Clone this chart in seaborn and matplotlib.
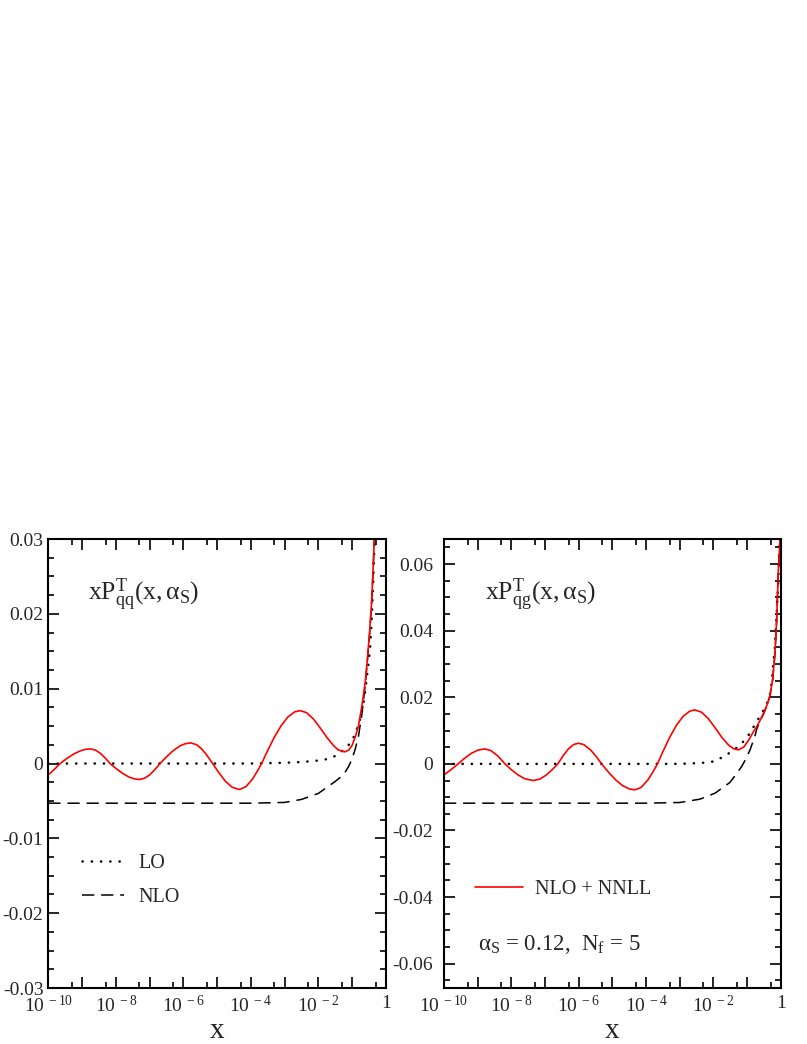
import numpy as np
import matplotlib
matplotlib.use("Agg")
import matplotlib.pyplot as plt
from matplotlib.ticker import LogLocator, FuncFormatter, MultipleLocator, NullFormatter
import seaborn as sns

# values, x given as log10(x)
# left panel: x P_qq^T
lo_qq_logx = [-10, -4, -3, -2.5, -2.0, -1.72, -1.45, -1.23, -1.03, -0.91, -0.74, -0.64,
              -0.545, -0.465, -0.42, -0.37, -0.33, -0.30]
lo_qq = [0, 0, 0.0001, 0.0002, 0.0004, 0.0006, 0.0011, 0.0019, 0.0028, 0.0039, 0.0062, 0.0086,
         0.0121, 0.0152, 0.019, 0.0245, 0.030, 0.035]

nlo_qq_logx = [-10, -4, -3.0, -2.5, -2.0, -1.5, -1.25, -1.1, -1.0, -0.9, -0.81, -0.71, -0.61,
               -0.545, -0.48, -0.42, -0.37, -0.33, -0.30]
nlo_qq = [-0.0053, -0.0053, -0.0052, -0.0048, -0.0040, -0.0024, -0.0015, -0.0004, 0.0006, 0.0020,
          0.0036, 0.0065, 0.0104, 0.0137, 0.0172, 0.0213, 0.0263, 0.031, 0.035]

nnll_qq_logx = [-10, -9.85, -9.65, -9.45, -9.25, -9.05, -8.9, -8.76, -8.6, -8.45, -8.3, -8.17,
                -8.0, -7.8, -7.6, -7.45, -7.3, -7.15, -7.0, -6.85, -6.69, -6.5, -6.3, -6.1,
                -5.95, -5.78, -5.6, -5.45, -5.3, -5.13, -4.95, -4.75, -4.55, -4.34, -4.15,
                -3.95, -3.8, -3.68, -3.5, -3.3, -3.1, -2.9, -2.7, -2.54, -2.35, -2.15, -1.95,
                -1.75, -1.55, -1.4, -1.21, -1.1, -1.0, -0.9, -0.81, -0.71, -0.61, -0.545,
                -0.48, -0.42, -0.37, -0.33, -0.30]
nnll_qq = [-0.0015, -0.0009, 0, 0.00068, 0.00127, 0.0017, 0.0019, 0.00196, 0.00179, 0.00133,
           0.00067, 0, -0.00064, -0.00132, -0.00183, -0.00205, -0.00213, -0.00197, -0.00153,
           -0.00085, 0, 0.00089, 0.00172, 0.00235, 0.00264, 0.00276, 0.0025, 0.00193, 0.0011,
           0, -0.0012, -0.00238, -0.00317, -0.00347, -0.00312, -0.00208, -0.00098, 0,
           0.00173, 0.00354, 0.00506, 0.00622, 0.0069, 0.00707, 0.0068, 0.00598, 0.0048,
           0.00352, 0.0024, 0.0018, 0.00156, 0.0018, 0.0024, 0.0036, 0.0050, 0.0076, 0.0108,
           0.0139, 0.0175, 0.0215, 0.0265, 0.031, 0.035]

# right panel: x P_qg^T
lo_qg_logx = [-10, -3.0, -2.5, -2.2, -1.95, -1.70, -1.45, -1.26, -1.01, -0.86, -0.71, -0.56,
              -0.42, -0.32, -0.27, -0.22, -0.17, -0.12, -0.07, -0.04, -0.01]
lo_qg = [0, 0, 0.0002, 0.0004, 0.0008, 0.0022, 0.0037, 0.0052, 0.0077, 0.0102, 0.0127, 0.0152,
         0.0177, 0.0207, 0.0242, 0.030, 0.0352, 0.045, 0.055, 0.065, 0.075]

nlo_qg_logx = [-10, -4, -3.0, -2.4, -1.95, -1.51, -1.36, -1.16, -1.05, -0.91, -0.76, -0.71,
               -0.6, -0.51, -0.4, -0.32, -0.24, -0.17, -0.12, -0.07, -0.02, 0.0]
nlo_qg = [-0.0118, -0.0118, -0.0116, -0.0106, -0.0088, -0.0056, -0.0036, -0.0008, 0.0012,
          0.0042, 0.0085, 0.0105, 0.0131, 0.0150, 0.0177, 0.0204, 0.0252, 0.0332, 0.0432,
          0.058, 0.067, 0.072]

nnll_qg_logx = [-10, -9.8, -9.58, -9.4, -9.2, -9.0, -8.79, -8.6, -8.4, -8.19, -8.0, -7.8, -7.6,
                -7.35, -7.15, -6.95, -6.78, -6.62, -6.45, -6.3, -6.15, -6.01, -5.85, -5.65,
                -5.48, -5.32, -5.1, -4.9, -4.7, -4.5, -4.33, -4.15, -3.95, -3.8, -3.66, -3.5,
                -3.3, -3.1, -2.9, -2.7, -2.55, -2.35, -2.15, -1.95, -1.75, -1.55, -1.4, -1.26,
                -1.1, -0.96, -0.8, -0.71, -0.6, -0.51, -0.4, -0.32, -0.24, -0.17, -0.12,
                -0.07, -0.02, 0.0]
nnll_qg = [-0.0033, -0.0018, 0, 0.00158, 0.00309, 0.00411, 0.0045, 0.00396, 0.00235, 0,
           -0.00174, -0.00333, -0.00447, -0.0050, -0.00455, -0.00326, -0.00169, 0, 0.00263,
           0.00455, 0.0058, 0.0062, 0.00579, 0.00423, 0.00221, 0, -0.00267, -0.00482, -0.0065,
           -0.00752, -0.0078, -0.00711, -0.0049, -0.00251, 0, 0.00365, 0.0079, 0.01153,
           0.01425, 0.01584, 0.0162, 0.0155, 0.01357, 0.01086, 0.00799, 0.00564, 0.00456,
           0.0042, 0.0050, 0.0070, 0.0098, 0.0112, 0.0133, 0.0152, 0.0178, 0.0205, 0.0252,
           0.0332, 0.0432, 0.058, 0.067, 0.072]

sns.set_style("ticks")
plt.rcParams['font.family'] = ['Liberation Serif', 'DejaVu Serif']
plt.rcParams['mathtext.fontset'] = 'custom'
plt.rcParams['mathtext.rm'] = 'Liberation Serif'
plt.rcParams['mathtext.it'] = 'Liberation Serif:italic'
plt.rcParams['axes.unicode_minus'] = False

fig = plt.figure(figsize=(8.07, 10.44), dpi=100)
ax1 = fig.add_axes([0.0599, 0.0536, 0.4181, 0.4301])
ax2 = fig.add_axes([0.5502, 0.0536, 0.4172, 0.4301])


def xfmt(v, pos):
    e = int(round(np.log10(v)))
    if e == 0:
        return '1'
    if e % 2:
        return ''
    return r'10$^{\;%d}$' % e


def yfmt(v, pos):
    if abs(v) < 1e-9:
        return '0'
    return '%.2f' % v


def draw(ax, lo_lx, lo, nlo_lx, nlo, nn_lx, nn, ylim, major, minor, ypad):
    sns.lineplot(x=10.0 ** np.array(lo_lx), y=lo, ax=ax, color='black', lw=1.8,
                 linestyle=(0, (0.1, 3.6)), dash_capstyle='round', estimator=None)
    sns.lineplot(x=10.0 ** np.array(nlo_lx), y=nlo, ax=ax, color='black', lw=1.1,
                 linestyle=(0, (8, 4.5)), estimator=None)
    sns.lineplot(x=10.0 ** np.array(nn_lx), y=nn, ax=ax, color='#ff0000', lw=1.2,
                 estimator=None)
    ax.set_xscale('log')
    ax.set_xlim(1e-10, 1)
    ax.set_ylim(*ylim)
    ax.xaxis.set_major_locator(LogLocator(base=10, numticks=20))
    ax.xaxis.set_minor_locator(LogLocator(base=10, subs=[5], numticks=20))
    ax.xaxis.set_major_formatter(FuncFormatter(xfmt))
    ax.xaxis.set_minor_formatter(NullFormatter())
    ax.yaxis.set_major_locator(MultipleLocator(major))
    ax.yaxis.set_minor_locator(MultipleLocator(minor))
    ax.yaxis.set_major_formatter(FuncFormatter(yfmt))
    ax.tick_params(which='major', direction='in', length=8, width=1.2, top=True, right=True,
                   labelsize=14, color='black')
    ax.tick_params(which='minor', direction='in', length=4.5, width=1.2, top=True, right=True,
                   color='black')
    ax.tick_params(axis='y', which='major', pad=ypad)
    ax.tick_params(axis='x', which='major', pad=5)
    for s in ax.spines.values():
        s.set_linewidth(1.5)
        s.set_color('black')
    ax.set_ylabel('')
    ax.set_xlabel('x', fontsize=21)
    ax.xaxis.set_label_coords(0.5, -0.066)


draw(ax1, lo_qq_logx, lo_qq, nlo_qq_logx, nlo_qq, nnll_qq_logx, nnll_qq,
     (-0.03, 0.03), 0.01, 0.0025, 3.5)
draw(ax2, lo_qg_logx, lo_qg, nlo_qg_logx, nlo_qg, nnll_qg_logx, nnll_qg,
     (-0.0673, 0.0675), 0.02, 0.005, 8)

ax1.text(0.118, 0.864, r'$\mathrm{xP^T_{qq}(x,\alpha_S)}$', transform=ax1.transAxes,
         fontsize=18.5, va='baseline')
ax2.text(0.122, 0.864, r'$\mathrm{xP^T_{qg}(x,\alpha_S)}$', transform=ax2.transAxes,
         fontsize=18.5, va='baseline')
ax2.text(0.102, 0.0846, r'$\mathrm{\alpha_S}$ = 0.12,  N$_\mathrm{f}$ = 5', transform=ax2.transAxes,
         fontsize=16.5, va='baseline')

ax1.legend([ax1.lines[0], ax1.lines[1]], ['LO', 'NLO'], loc='center left',
           bbox_to_anchor=(0.099, 0.2388), frameon=False, fontsize=14.5, handlelength=2.1,
           handletextpad=0.7, labelspacing=0.75, borderpad=0, borderaxespad=0)
ax2.legend([ax2.lines[2]], ['NLO + NNLL'], loc='center left',
           bbox_to_anchor=(0.092, 0.2198), frameon=False, fontsize=14.5, handlelength=2.4,
           handletextpad=0.57, borderpad=0, borderaxespad=0)

fig.savefig('out.png', dpi=100)
